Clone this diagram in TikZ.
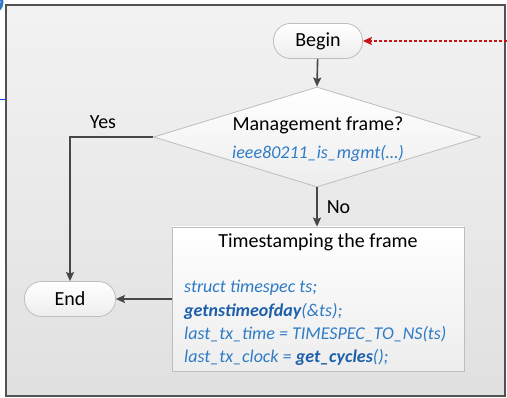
\documentclass[tikz,border=0pt]{standalone}
\usepackage{fontspec}
\setmainfont{Carlito}
\usetikzlibrary{arrows.meta,shapes.geometric}
\definecolor{codeblue}{HTML}{2E7BC6}
\definecolor{codebold}{HTML}{1C5FAA}
\definecolor{linegray}{HTML}{474747}
\definecolor{nodeedge}{HTML}{BDBDBD}
\definecolor{dotred}{HTML}{C81414}
\tikzset{
  flowbox/.style={draw=nodeedge, line width=0.8pt, top color=white, bottom color=black!7},
  pill/.style={flowbox, rectangle, rounded corners=17pt, minimum height=35pt, inner sep=0pt,
               font=\fontsize{20}{24}\selectfont},
  flow/.style={draw=linegray, line width=1.6pt, -{Stealth[length=9pt,width=8pt,inset=1.5pt]}},
  lbl/.style={font=\fontsize{20}{24}\selectfont, inner sep=0pt},
  code/.style={font=\fontsize{18}{22}\selectfont\itshape, text=codeblue, inner sep=0pt, anchor=west},
}
\newcommand{\cb}[1]{\textbf{\color{codebold}#1}}
\begin{document}
\begin{tikzpicture}[x=1pt,y=-1pt]
  \useasboundingbox (0,0) rectangle (507,398);
  % pieces of neighbouring items at the left edge
  \draw[codeblue, line width=3pt] (-9,13) arc[start angle=90, end angle=-90, radius=11];
  \draw[blue!70!cyan, line width=1pt] (0,100) -- (6,100);
  % panel
  \draw[draw=black!68, line width=2pt, top color=black!5, bottom color=black!12]
    (6,5) rectangle (505,396);

  % nodes
  \node[pill, minimum width=89pt] (begin) at (318,41) {Begin};
  \node[flowbox, diamond, minimum width=327pt, minimum height=100pt, inner sep=0pt] (dec) at (317,137) {};
  \node[lbl] (q) at (318,125) {Management frame?};
  \node[font=\fontsize{18}{22}\selectfont\itshape, text=codeblue, inner sep=0pt] (qf) at (318,153) {ieee80211\_is\_mgmt(…)};
  \node[flowbox, rectangle, minimum width=292pt, minimum height=144pt] (ts) at (318,299) {};
  \node[lbl] (tstitle) at (318,242) {Timestamping the frame};
  \node[code] (c1) at (184,288) {struct timespec ts;};
  \node[code] (c2) at (184,311) {\cb{getnstimeofday}(\&ts);};
  \node[code] (c3) at (184,334) {last\_tx\_time = TIMESPEC\_TO\_NS(ts)};
  \node[code] (c4) at (184,357) {last\_tx\_clock = \cb{get\_cycles}();};
  \node[pill, minimum width=91pt] (end) at (70,299) {End};

  % connectors
  \draw[flow] (begin) -- (dec.north);
  \draw[flow] (dec.south) -- node[lbl, right=9pt, pos=0.5] (no) {No} (ts.north -| dec.south);
  \draw[flow] (dec.west) -| (end.north);
  \node[lbl] (yes) at (103,122) {Yes};
  \draw[flow] (ts.west |- end.east) -- (end.east);
  \coordinate (incoming) at (507,41);
  \draw[dotred, line width=1.3pt, dash pattern=on 3pt off 2pt,
        -{Stealth[length=9pt,width=8pt,inset=1.5pt]}] (incoming) -- (begin.east);
\end{tikzpicture}
\end{document}
